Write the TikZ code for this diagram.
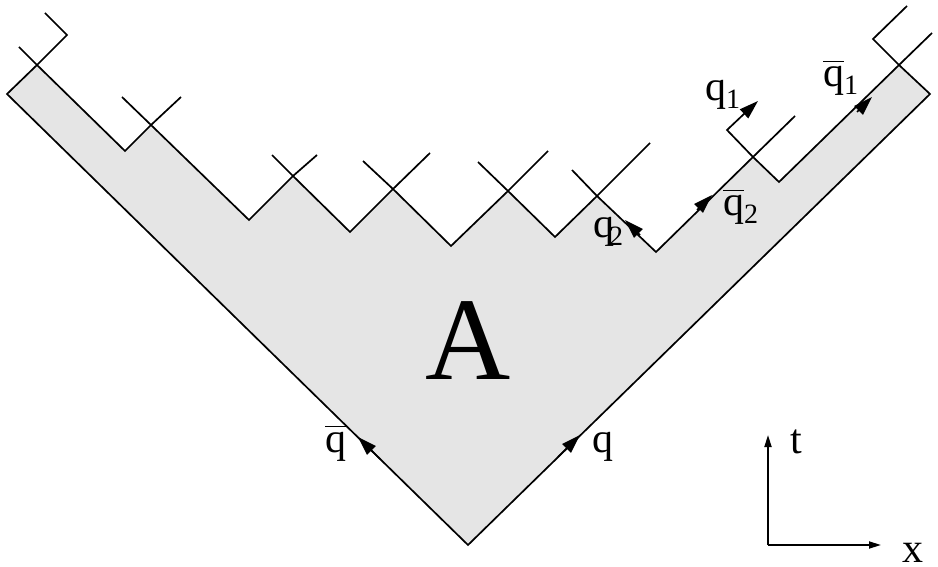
\documentclass[tikz,border=0pt]{standalone}
\usepackage{fontspec}
\setmainfont{Liberation Serif}
\usetikzlibrary{arrows.meta}
\definecolor{regiongray}{RGB}{229,229,229}
\newcommand\sbs[1]{\raisebox{-8pt}{\fontsize{28}{28}\selectfont #1}}
\newcommand\qbr{\vbox{\hrule height 1.5pt\kern 4.5pt\hbox{q}}}
\tikzset{
  edge/.style={line width=1.7pt, line join=miter},
  arr/.style={line width=1.7pt, -{Triangle[length=19pt,width=12pt]}},
  axarr/.style={line width=1.7pt, -{Triangle[length=12pt,width=7pt]}},
  lbl/.style={anchor=base west, inner sep=0pt, font=\fontsize{42}{42}\selectfont},
}
\begin{document}
\begin{tikzpicture}[x=1pt,y=-1pt]
\useasboundingbox (0,0) rectangle (938,567);
% main region
\filldraw[edge, fill=regiongray]
  (468,545) -- (7,94) -- (37,65) -- (125,151) -- (151,125) -- (249,220)
  -- (293,176) -- (350,232) -- (393,189) -- (451,246) -- (508,191)
  -- (555,237) -- (597,196) -- (656,252) -- (753,157) -- (779,182)
  -- (899,65) -- (930,94) -- cycle;
% crossing arms
\draw[edge] (37,65) -- (67,35) -- (45,13);
\draw[edge] (37,65) -- (19,47);
\draw[edge] (151,125) -- (181,97);
\draw[edge] (151,125) -- (122,97);
\draw[edge] (293,176) -- (317,155);
\draw[edge] (293,176) -- (272,155);
\draw[edge] (393,189) -- (430,153);
\draw[edge] (393,189) -- (363,161);
\draw[edge] (508,191) -- (548,151);
\draw[edge] (508,191) -- (478,162);
\draw[edge] (597,196) -- (650,143);
\draw[edge] (597,196) -- (572,170);
\draw[edge] (753,157) -- (795,116);
\draw[edge] (753,157) -- (727,130) -- (745,113);
\draw[arr] (745,113) -- (758,101);
\draw[edge] (899,65) -- (932,33);
\draw[edge] (899,65) -- (873,39) -- (907,6);
% arrows on the boundary
\draw[arr] (380,459) -- (358,437);
\draw[arr] (558,457) -- (580,435);
\draw[arr] (640,235) -- (625,220);
\draw[arr] (697,210) -- (712,195);
\draw[arr] (857,112) -- (872,97);
% axes
\coordinate (o) at (768,545);
\coordinate (tt) at (768,435);
\coordinate (xx) at (881,545);
\draw[axarr] (o) -- (tt);
\draw[axarr] (o) -- (xx);
% labels
\node[anchor=base, inner sep=0pt, font=\fontsize{118}{118}\selectfont] (A) at (468,379) {A};
\node[lbl] (qbar) at (325,452) {\qbr};
\node[lbl] (q) at (592,452) {q};
\node[lbl] (t) at (790,453) {t};
\node[lbl] (x) at (902,562) {x};
\node[lbl] (q1) at (705,101) {q\sbs{1}};
\node[lbl] (qb1) at (823,87) {\qbr\sbs{1}};
\node[lbl] (qb2) at (723,216) {\qbr\sbs{2}};
\node[lbl] (q2) at (593,237) {q\kern-5pt\sbs{2}};
\end{tikzpicture}
\end{document}
